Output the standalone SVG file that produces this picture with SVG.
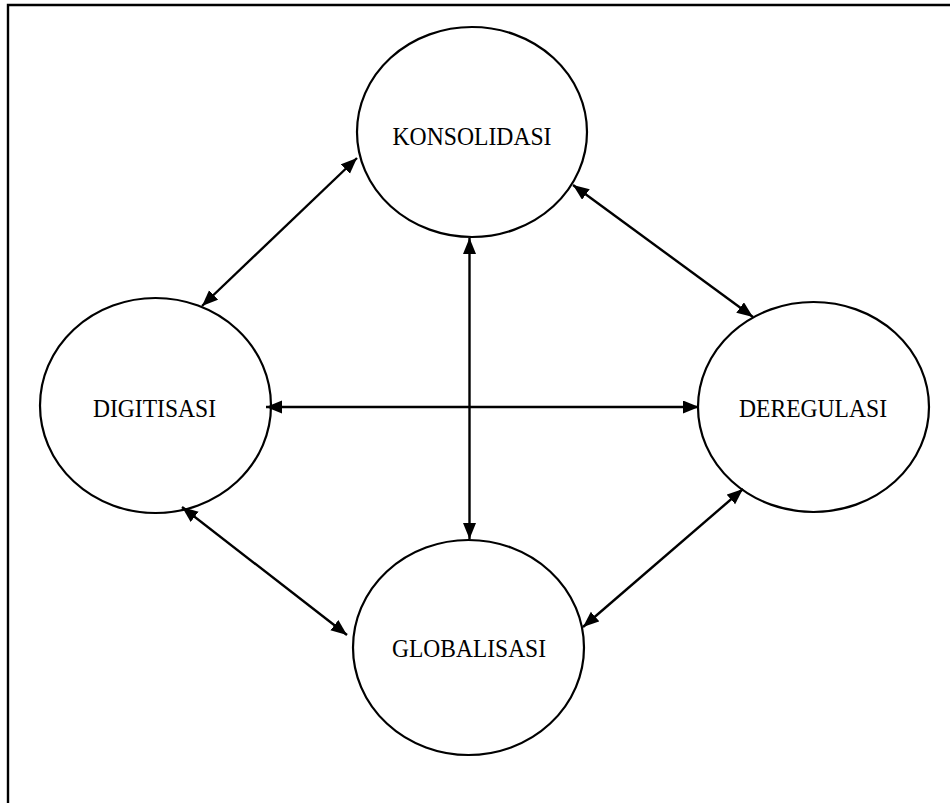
<svg xmlns="http://www.w3.org/2000/svg" width="950" height="803" viewBox="0 0 950 803">
<style>
.node ellipse{fill:#fff;stroke:#000;stroke-width:2.2}
.node text{font-family:"Liberation Serif","Times New Roman",serif;font-size:25px;fill:#000;text-anchor:middle}
.conn line{stroke:#000;stroke-width:2.4}
</style>
<defs>
<marker id="ah" markerUnits="userSpaceOnUse" markerWidth="18" markerHeight="14" refX="16" refY="6.5" orient="auto-start-reverse">
<path d="M0,0 L16,6.5 L0,13 z" fill="#000"/>
</marker>
</defs>
<rect x="0" y="0" width="950" height="803" fill="#fff"/>
<path d="M8,803 V5 H950" fill="none" stroke="#000" stroke-width="2.4"/>
<g id="nodes">
<g id="konsolidasi" class="node">
<ellipse cx="472" cy="132" rx="115" ry="105"/>
<text x="472" y="145" textLength="159" lengthAdjust="spacingAndGlyphs">KONSOLIDASI</text>
</g>
<g id="digitisasi" class="node">
<ellipse cx="155.5" cy="405.5" rx="115.5" ry="107.5"/>
<text x="154.5" y="417" textLength="123" lengthAdjust="spacingAndGlyphs">DIGITISASI</text>
</g>
<g id="deregulasi" class="node">
<ellipse cx="813.5" cy="407" rx="115.5" ry="105"/>
<text x="813" y="417" textLength="148" lengthAdjust="spacingAndGlyphs">DEREGULASI</text>
</g>
<g id="globalisasi" class="node">
<ellipse cx="468.5" cy="647.5" rx="115.5" ry="107.5"/>
<text x="469" y="657" textLength="154" lengthAdjust="spacingAndGlyphs">GLOBALISASI</text>
</g>
</g>
<g id="connectors" class="conn">
<line x1="357" y1="158" x2="202" y2="306" marker-start="url(#ah)" marker-end="url(#ah)"/>
<line x1="573" y1="185" x2="753" y2="317" marker-start="url(#ah)" marker-end="url(#ah)"/>
<line x1="469.5" y1="238" x2="469.5" y2="539" marker-start="url(#ah)" marker-end="url(#ah)"/>
<line x1="266" y1="407" x2="699" y2="407" marker-start="url(#ah)" marker-end="url(#ah)"/>
<line x1="182" y1="507" x2="347" y2="635" marker-start="url(#ah)" marker-end="url(#ah)"/>
<line x1="743" y1="489" x2="583" y2="627" marker-start="url(#ah)" marker-end="url(#ah)"/>
</g>
</svg>
